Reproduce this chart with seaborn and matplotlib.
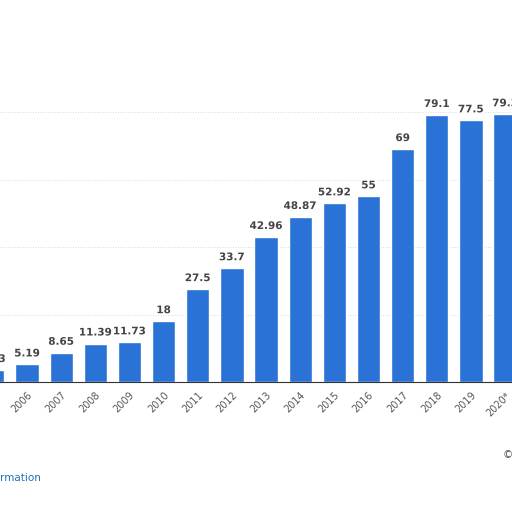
import matplotlib
matplotlib.use("Agg")
import matplotlib.pyplot as plt
import matplotlib.patheffects as pe
import seaborn as sns
import pandas as pd

years = ["2005","2006","2007","2008","2009","2010","2011","2012","2013","2014","2015","2016","2017","2018","2019","2020*"]
values = [3.53,5.19,8.65,11.39,11.73,18,27.5,33.7,42.96,48.87,52.92,55,69,79.1,77.5,79.3]
labels = ["3.53","5.19","8.65","11.39","11.73","18","27.5","33.7","42.96","48.87","52.92","55","69","79.1","77.5","79.3"]

df = pd.DataFrame({"year": years, "value": values})
sns.set_style("white")
fig = plt.figure(figsize=(5.12,5.12), dpi=100)
ax = fig.add_axes([0, 130/512, 1, 382/512])
sns.barplot(data=df, x="year", y="value", color="#2a72d5", saturation=1, width=0.68, ax=ax)
ax.set_xlim(1-27/34.15, 1+485/34.15)
ax.set_ylim(0, 382/3.375)
for y in [20,40,60,80]:
    ax.axhline(y, color="#cccccc", lw=0.6, ls=(0,(1,2)), zorder=0)
for i,(v,l) in enumerate(zip(values,labels)):
    ax.text(i, v+1.8, l, ha="center", va="bottom", fontsize=7.5, fontweight="bold", color="#444444",
            path_effects=[pe.withStroke(linewidth=3, foreground="white")])
ax.set_xlabel(""); ax.set_ylabel("")
ax.set_yticks([])
ax.tick_params(axis="x", length=0, pad=6, labelsize=7, labelcolor="#555555")
for t in ax.get_xticklabels():
    t.set_rotation(45); t.set_ha("right"); t.set_rotation_mode("anchor")
for s in ["top","right","left"]:
    ax.spines[s].set_visible(False)
ax.spines["bottom"].set_color("#333333")
fig.text(0, 1-478/512, "rmation", color="#1a73b8", fontsize=7.5, va="center", ha="left")
fig.text(503/512, 1-455/512, "©", color="#555555", fontsize=7.5, va="center", ha="left")
fig.savefig("out.png", dpi=100, facecolor="white")
